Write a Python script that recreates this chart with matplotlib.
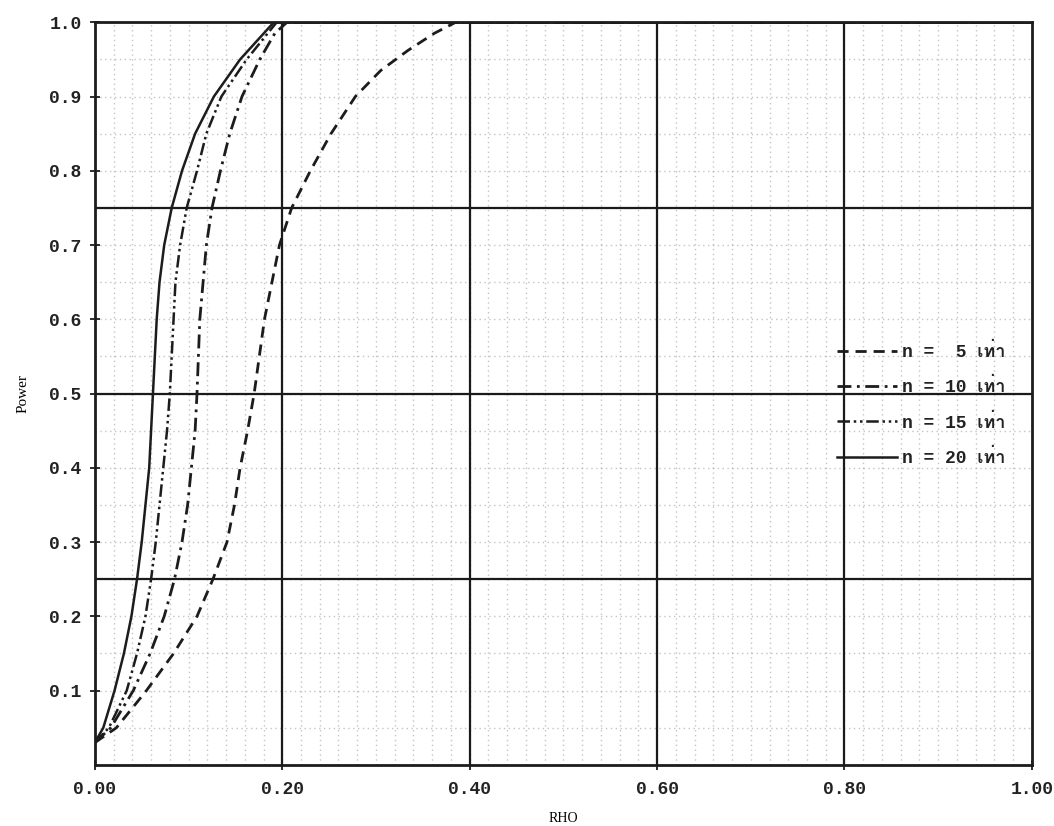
import matplotlib
matplotlib.use("Agg")
import numpy as np
import matplotlib.pyplot as plt
from matplotlib import font_manager
from matplotlib.ft2font import FT2Font

# Power curves (RHO, Power)
rho_n5 = [0.0, 0.023, 0.055, 0.084, 0.109, 0.126, 0.141, 0.149, 0.155, 0.163,
          0.170, 0.181, 0.189, 0.197, 0.210, 0.230, 0.252, 0.278, 0.305,
          0.334, 0.362, 0.385, 1.0]
pow_n5 = [0.03, 0.05, 0.10, 0.15, 0.20, 0.25, 0.30, 0.35, 0.40, 0.45,
          0.50, 0.60, 0.65, 0.70, 0.75, 0.80, 0.85, 0.90, 0.935,
          0.962, 0.985, 1.0, 1.0]

rho_n10 = [0.0, 0.017, 0.041, 0.059, 0.074, 0.085, 0.093, 0.099, 0.103, 0.107,
           0.109, 0.112, 0.119, 0.125, 0.134, 0.144, 0.157, 0.176, 0.192, 0.205, 1.0]
pow_n10 = [0.03, 0.05, 0.10, 0.15, 0.20, 0.25, 0.30, 0.35, 0.40, 0.45,
           0.50, 0.60, 0.70, 0.75, 0.80, 0.85, 0.90, 0.95, 0.985, 1.0, 1.0]

rho_n15 = [0.0, 0.015, 0.034, 0.045, 0.054, 0.060, 0.065, 0.069, 0.073, 0.077,
           0.080, 0.084, 0.086, 0.091, 0.098, 0.109, 0.119, 0.135, 0.162, 0.194, 1.0]
pow_n15 = [0.03, 0.05, 0.10, 0.15, 0.20, 0.25, 0.30, 0.35, 0.40, 0.45,
           0.50, 0.60, 0.65, 0.70, 0.75, 0.80, 0.85, 0.90, 0.95, 1.0, 1.0]

rho_n20 = [0.0, 0.009, 0.021, 0.031, 0.039, 0.045, 0.050, 0.054, 0.058, 0.062,
           0.064, 0.066, 0.069, 0.074, 0.082, 0.093, 0.107, 0.127, 0.141, 0.155,
           0.173, 0.191, 1.0]
pow_n20 = [0.03, 0.05, 0.10, 0.15, 0.20, 0.25, 0.30, 0.35, 0.40, 0.50,
           0.55, 0.60, 0.65, 0.70, 0.75, 0.80, 0.85, 0.90, 0.925, 0.95,
           0.975, 1.0, 1.0]

series_labels = ["n =  5 เท่า", "n = 10 เท่า", "n = 15 เท่า", "n = 20 เท่า"]

x_ticks = [0.0, 0.2, 0.4, 0.6, 0.8, 1.0]
x_ticklabels = ["0.00", "0.20", "0.40", "0.60", "0.80", "1.00"]
y_ticks = [0.1, 0.2, 0.3, 0.4, 0.5, 0.6, 0.7, 0.8, 0.9, 1.0]
y_ticklabels = ["0.1", "0.2", "0.3", "0.4", "0.5", "0.6", "0.7", "0.8", "0.9", "1.0"]
x_grid = [0.2, 0.4, 0.6, 0.8]
y_grid = [0.25, 0.5, 0.75]


def find_thai_family():
    for f in font_manager.fontManager.ttflist:
        try:
            if 0x0E40 in FT2Font(f.fname).get_charmap():
                return f.name
        except Exception:
            continue
    return None


thai = find_thai_family()
mono = ["Liberation Mono"] + ([thai] if thai else []) + ["DejaVu Sans"]

fig = plt.figure(figsize=(10.54, 8.26), dpi=100)
ax = fig.add_axes([0.090, 0.074, 0.889, 0.899])

# faint graph-paper grid behind everything
for x in np.arange(0.02, 1.0, 0.02):
    ax.axvline(x, color="#8a8a8a", lw=1.0, ls=(0, (1, 2.5)), alpha=0.5, zorder=0)
for y in np.arange(0.05, 1.0, 0.05):
    ax.axhline(y, color="#8a8a8a", lw=1.0, ls=(0, (1, 2.5)), alpha=0.5, zorder=0)

# heavy reference grid
for x in x_grid:
    ax.axvline(x, color="#1a1a1a", lw=1.6, zorder=1)
for y in y_grid:
    ax.axhline(y, color="#1a1a1a", lw=1.6, zorder=1)

ink = "#1c1c1c"
ax.plot(rho_n5, pow_n5, color=ink, lw=2.0, ls=(0, (4, 2.5)), label=series_labels[0], zorder=3)
ax.plot(rho_n10, pow_n10, color=ink, lw=2.0, ls=(0, (5, 2, 1, 2)), label=series_labels[1], zorder=3)
ax.plot(rho_n15, pow_n15, color=ink, lw=1.8, ls=(0, (5, 1.5, 1, 1.5, 1, 1.5)), label=series_labels[2], zorder=3)
ax.plot(rho_n20, pow_n20, color=ink, lw=1.8, ls="-", label=series_labels[3], zorder=3)

ax.set_xlim(0, 1.0)
ax.set_ylim(0, 1.0)
ax.set_xticks(x_ticks)
ax.set_xticklabels(x_ticklabels, family=mono, fontsize=13, fontweight="bold", color="#222222")
ax.set_yticks(y_ticks)
ax.set_yticklabels(y_ticklabels, family=mono, fontsize=13, fontweight="bold", color="#222222")
ax.tick_params(axis="both", direction="inout", length=7, width=1.3, color=ink)
ax.tick_params(axis="x", pad=8)
ax.tick_params(axis="y", pad=6)

for s in ax.spines.values():
    s.set_linewidth(2.0)
    s.set_color(ink)

ax.set_xlabel("RHO", family=["Liberation Serif"], fontsize=10, labelpad=10)
ax.set_ylabel("Power", family=["Liberation Serif"], fontsize=11, labelpad=14)

leg = ax.legend(loc="upper left", bbox_to_anchor=(0.775, 0.59), frameon=False,
                handlelength=3.3, handletextpad=0.3, labelspacing=0.95,
                prop={"family": mono, "size": 13, "weight": "bold"})
for t in leg.get_texts():
    t.set_color("#222222")

fig.savefig("out.png", dpi=100, facecolor="white")
